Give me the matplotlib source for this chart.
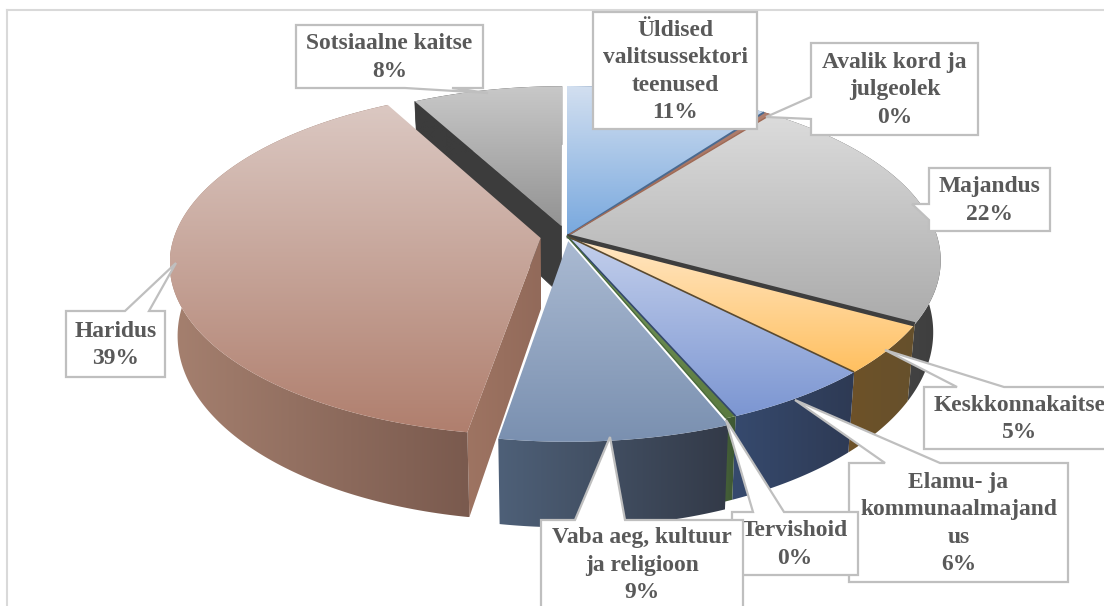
import numpy as np
import matplotlib
matplotlib.use("Agg")
import matplotlib.pyplot as plt
from matplotlib.patches import Polygon

names = ["Üldised\nvalitsussektori\nteenused", "Avalik kord ja\njulgeolek", "Majandus", "Keskkonnakaitse",
         "Elamu- ja\nkommunaalmajand\nus", "Tervishoid", "Vaba aeg, kultuur\nja religioon", "Haridus", "Sotsiaalne kaitse"]
values = [10.1, 0.4, 22.5, 4.7, 5.8, 0.4, 8.7, 39.5, 7.9]
percent_labels = ["11%", "0%", "22%", "5%", "6%", "0%", "9%", "39%", "8%"]

explode = [0, 0, 0, 0, 0, 0, 0.03, 0.072, 0.06]
radius = [1, 1, 1, 1, 1, 1, 1, 0.99, 0.94]
top_hi = ["#d2dff0", "#b08070", "#dcdcdc", "#ffe8c8", "#c4d0ec", "#7a9a60", "#aabad2", "#dbc8c2", "#c8c8c8"]
top_lo = ["#78a8de", "#a06a55", "#ababab", "#ffc060", "#7c96d2", "#5a7a40", "#7a90b0", "#b07f6e", "#939393"]
wall_l = ["#40608a", "#6a4030", "#565656", "#6e5228", "#364a6e", "#46603a", "#4e6078", "#a5806f", "#3c3c3c"]
wall_r = ["#40608a", "#6a4030", "#3e3e3e", "#66502c", "#2e3a54", "#3e5832", "#333a48", "#7a5a4e", "#3c3c3c"]

cx, cy, Rx, Ry, p, s = 567, 236, 370, 171, 0.14, 0.98
d0, d1 = 70, 13
TEXT = "#595959"
EDGE = "#bfbfbf"

fig = plt.figure(figsize=(11.04, 6.06), dpi=100)
ax = fig.add_axes([0, 0, 1, 1])
ax.set_xlim(0, 1104)
ax.set_ylim(606, 0)
ax.axis("off")


def top_xy(X, Y):
    w = 1 + p * Y
    return np.column_stack([cx + Rx * X / w, cy - Ry * Y / w])


def bottom_xy(X, Y):
    xy = top_xy(X, Y)
    w = 1 + p * Y
    return np.column_stack([cx + (xy[:, 0] - cx) * s, xy[:, 1] + d0 - d1 * Y / w])


def grad_fill(pts, c1, c2, horizontal, z):
    x0, y0 = pts.min(axis=0)
    x1, y1 = pts.max(axis=0)
    a = np.array(matplotlib.colors.to_rgb(c1))
    b = np.array(matplotlib.colors.to_rgb(c2))
    t = np.linspace(0, 1, 128)[:, None]
    col = a * (1 - t) + b * t
    img = col[None, :, :] if horizontal else col[:, None, :]
    im = ax.imshow(img, extent=(x0, x1, y1, y0), aspect="auto", zorder=z, interpolation="bilinear")
    poly = Polygon(pts, closed=True, transform=ax.transData, fc="none", ec="none")
    ax.add_patch(poly)
    im.set_clip_path(poly)


fracs = np.array(values) / sum(values)
ends = np.cumsum(fracs) * 2 * np.pi
starts = ends - fracs * 2 * np.pi
z = 2
seam_w = {0: 1.4, 1: 1.0, 2: 3.2, 3: 1.2, 4: 1.2, 5: 1.0}
seam_c = {0: "#4a6a90", 1: "#a06a55", 2: "#3e3e3e", 3: "#5a4a30", 4: "#34486c", 5: "#4a6a3a"}
for i in [8, 0, 1, 2, 3, 4, 5, 6, 7]:
    mid = (starts[i] + ends[i]) / 2
    ax0 = explode[i] * np.sin(mid)
    ay0 = explode[i] * np.cos(mid)
    th = np.linspace(starts[i], ends[i], 160)
    X = ax0 + radius[i] * np.sin(th)
    Y = ay0 + radius[i] * np.cos(th)
    AX, AY = np.array([ax0]), np.array([ay0])
    arc_t = top_xy(X, Y)
    arc_b = bottom_xy(X, Y)
    apex_t = top_xy(AX, AY)
    apex_b = bottom_xy(AX, AY)
    if i == 7:
        q = np.vstack([apex_t, arc_t[:1], arc_b[:1], apex_b])
        grad_fill(q, "#9e7462", "#926a5a", True, z)
        z += 1
    if i == 8:
        q = np.vstack([apex_t, arc_t[:1], arc_b[:1], apex_b])
        ax.add_patch(Polygon(q, closed=True, fc="#3c3c3c", ec="#3c3c3c", lw=0.5, zorder=z))
        z += 1
    wall = np.vstack([arc_t, arc_b[::-1]])
    grad_fill(wall, wall_l[i], wall_r[i], True, z)
    z += 1
    face = np.vstack([apex_t, arc_t])
    grad_fill(face, top_hi[i], top_lo[i], False, z)
    z += 1
    if i in seam_w:
        ax.plot([apex_t[0, 0], arc_t[-1, 0]], [apex_t[0, 1], arc_t[-1, 1]],
                color=seam_c[i], lw=seam_w[i], zorder=30 + i, solid_capstyle="butt")

callouts = [
    (593, 12, 757, 129, None),
    (811, 43, 978, 135, ("left", 119, (766, 117), 97)),
    (929, 168, 1050, 231, ("left", 220, (912, 204), 204)),
    (924, 387, 1120, 449, ("top", 957, (885, 350), 1004)),
    (849, 463, 1068, 582, ("top", 885, (795, 400), 940)),
    (732, 512, 858, 575, ("top", 753, (726, 420), 784)),
    (541, 520, 743, 640, ("top", 575, (610, 437), 625)),
    (66, 311, 165, 377, ("top", 125, (176, 263), 149)),
    (296, 25, 483, 88, ("bottom", 452, (488, 93), 405)),
]
for i, (x0, y0, x1, y1, tail) in enumerate(callouts):
    zb = 60 + i
    pts = [(x0, y0)]
    if tail and tail[0] == "top":
        pts += [(tail[1], y0), tail[2], (tail[3], y0)]
    pts.append((x1, y0))
    pts.append((x1, y1))
    if tail and tail[0] == "bottom":
        pts += [(tail[1], y1), tail[2], (tail[3], y1)]
    pts.append((x0, y1))
    if tail and tail[0] == "left":
        pts += [(x0, tail[1]), tail[2], (x0, tail[3])]
    ax.add_patch(Polygon(pts, closed=True, fc="white", ec=EDGE, lw=1.6, zorder=zb, joinstyle="miter"))
    ty = (y0 + y1) / 2
    if i == 6:
        ty = 564
    ax.text((x0 + x1) / 2 if i != 3 else 1020, ty + 1, names[i] + "\n" + percent_labels[i],
            ha="center", va="center", multialignment="center", family="Liberation Serif",
            weight="bold", fontsize=16.9, color=TEXT, linespacing=1.4, zorder=zb + 0.5)

ax.plot([7, 7], [10, 606], color="#d9d9d9", lw=1.5, zorder=1)
ax.plot([7, 1104], [10, 10], color="#d9d9d9", lw=1.5, zorder=1)
ax.set_xlim(0, 1104)
ax.set_ylim(606, 0)
fig.savefig("out.png", dpi=100)
